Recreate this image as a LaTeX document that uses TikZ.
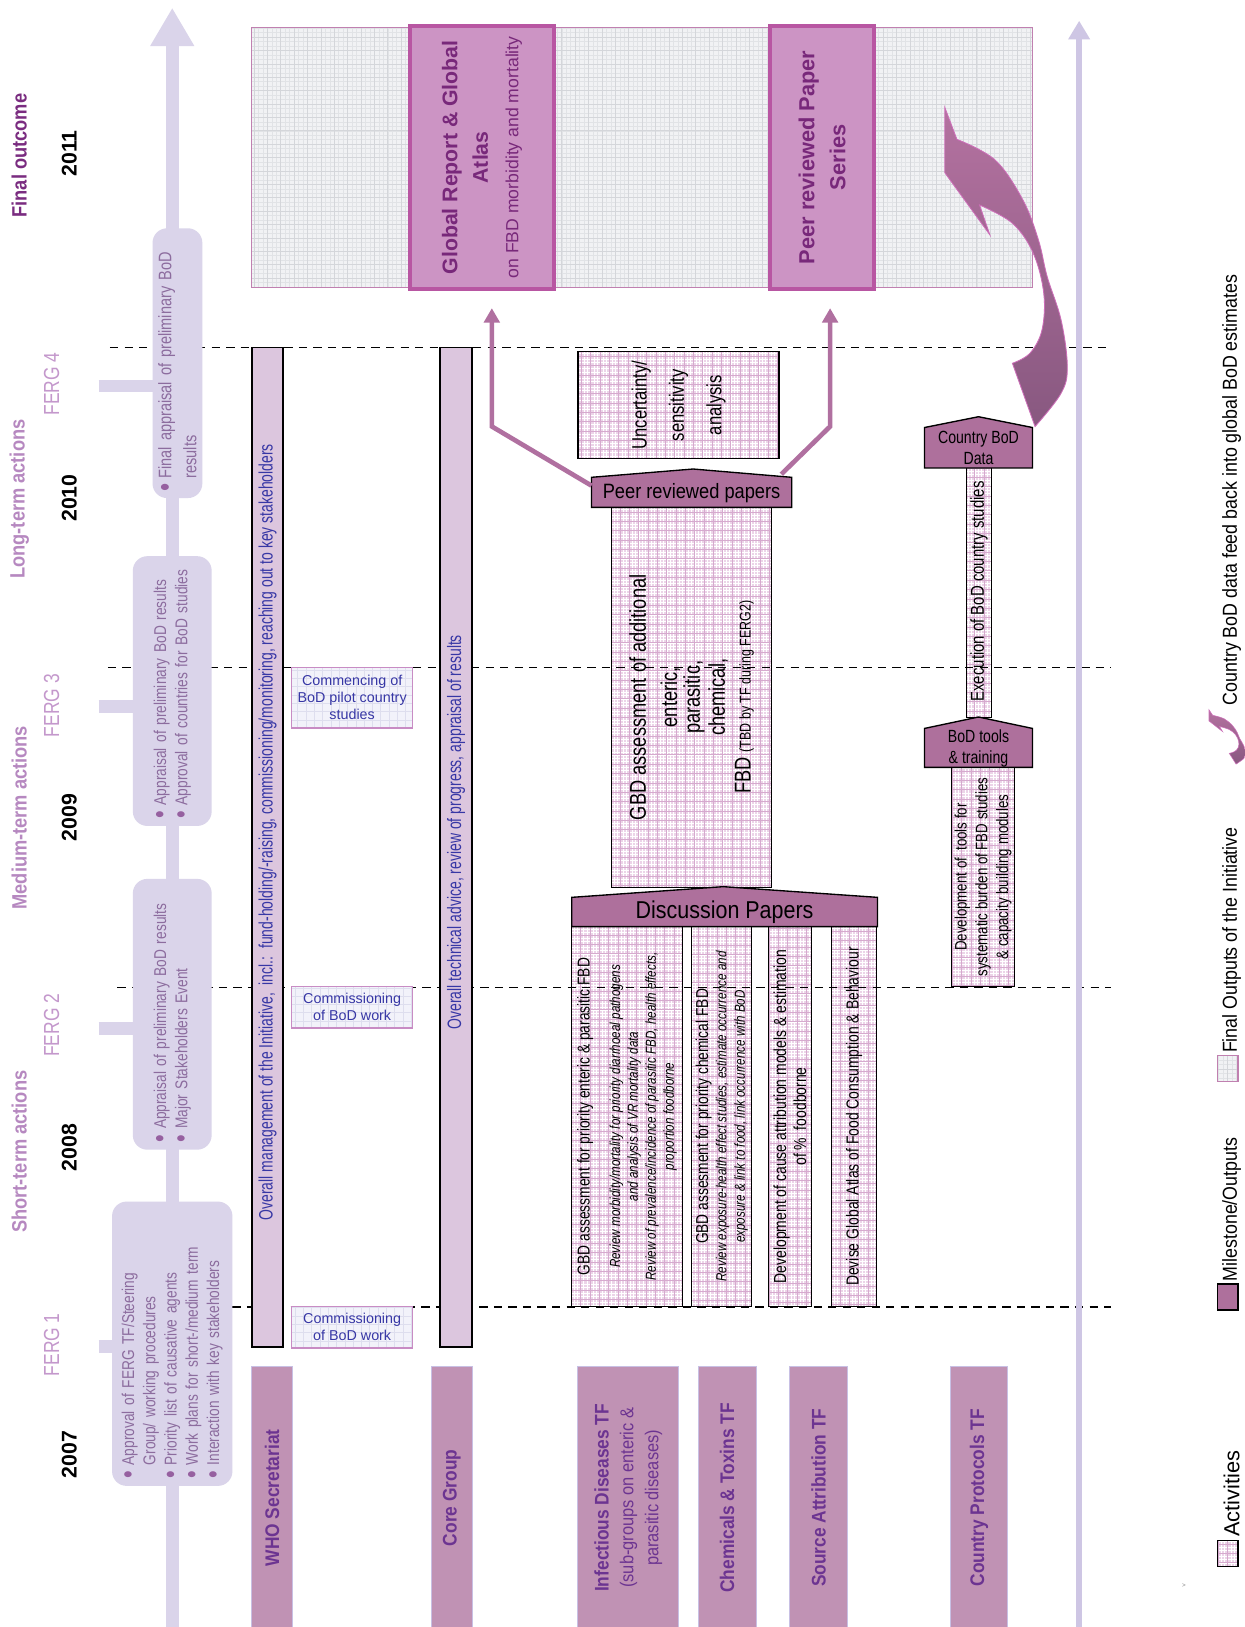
\documentclass[tikz,border=0pt]{standalone}
\usepackage{fontspec}
\setmainfont{Liberation Sans}
\newfontfamily\nar[FakeStretch=0.8]{Liberation Sans}
\newfontfamily\nrw[FakeStretch=0.72]{Liberation Sans}
\newfontfamily\hdr[FakeStretch=0.88]{Liberation Sans}
\usetikzlibrary{arrows.meta}
\newcommand\fsz[2]{\fontsize{#1}{#2}\selectfont}
\definecolor{tlcol}{RGB}{218,212,234}
\definecolor{rtlcol}{RGB}{206,198,228}
\definecolor{bubtxt}{RGB}{140,108,158}
\definecolor{bubdot}{RGB}{150,96,160}
\definecolor{fergcol}{RGB}{196,152,204}
\definecolor{hdrcol}{RGB}{182,136,192}
\definecolor{outcol}{RGB}{122,44,128}
\definecolor{bluetxt}{RGB}{55,55,165}
\definecolor{barfill}{RGB}{220,198,222}
\definecolor{actfill}{RGB}{236,212,232}
\definecolor{actgrid}{RGB}{214,170,206}
\definecolor{msfill}{RGB}{174,112,156}
\definecolor{lblfill}{RGB}{192,146,180}
\definecolor{lbltxt}{RGB}{108,52,145}
\definecolor{lblborder}{RGB}{200,192,228}
\definecolor{fofill}{RGB}{241,242,244}
\definecolor{fogrid}{RGB}{225,227,230}
\definecolor{fogrid2}{RGB}{212,214,218}
\definecolor{foborder}{RGB}{192,128,176}
\definecolor{fobox}{RGB}{204,148,196}
\definecolor{foboxborder}{RGB}{184,86,162}
\definecolor{fotxt}{RGB}{120,40,122}
\definecolor{arrcol}{RGB}{176,112,160}
\definecolor{comfill}{RGB}{242,242,250}
\definecolor{comgrid}{RGB}{222,222,238}
\definecolor{comborder}{RGB}{200,140,196}
\definecolor{bigtop}{RGB}{180,114,160}
\definecolor{bigbot}{RGB}{136,88,128}
\definecolor{bigedge}{RGB}{205,110,185}
\newcommand\bbul{\makebox[13pt][l]{\textcolor{bubdot}{\raisebox{-0.17em}{\scalebox{1.6}{\textbullet}}}}}
\newcommand\bind{\hspace*{13pt}}
\newcommand\bigarrowpath{(910.5,103.4) -- plot[smooth,tension=0.6] coordinates{(922.2,134.3) (959,154.2) (985.8,192.7) (1000.8,231.3) (1009.2,266.6) (1022.6,308.4) (1028.6,353.3) (1022.6,379) (997.5,411.1)} -- plot[smooth,tension=0.6] coordinates{(975.7,350.1) (992.5,340.5) (1004.2,318) (1005.9,282.7) (995.8,244.1) (975.7,215.2) (944,197.5)} -- (954,226.4) -- (910.5,166.4) -- cycle}
\tikzset{
  vtext/.style={rotate=90, inner sep=0pt, align=center},
  hdrtxt/.style={vtext, font=\hdr\bfseries\fsz{20}{24}, text=hdrcol},
  yeartxt/.style={vtext, font=\bfseries\fsz{20.5}{24}, text=black},
  fergtxt/.style={vtext, font=\nar\fsz{21}{24}, text=fergcol},
  bubble/.style={rotate=90, fill=tlcol, rounded corners=14pt, inner sep=0pt, align=left, font=\nar\fsz{16.5}{20.5}, text=bubtxt},
  tlline/.style={draw=tlcol, line width=13pt, -{Triangle[width=40pt,length=37pt]}},
  fergtick/.style={draw=tlcol, line width=12.5pt},
  dashline/.style={draw=black, line width=1.2pt, dash pattern=on 8pt off 6pt},
  rolebar/.style={rotate=90, draw=black, line width=1.5pt, fill=barfill, inner sep=0pt},
  roletxt/.style={rotate=90, inner sep=0pt, font=\nrw\fsz{18.7}{20}, text=bluetxt},
  gridact/.style={path picture={
      \draw[white, line width=0.25pt] (path picture bounding box.south west) grid[step=3pt] (path picture bounding box.north east);
      \draw[actgrid, line width=0.5pt] (path picture bounding box.south west) grid[step=9pt] (path picture bounding box.north east);}},
  gridfo/.style={path picture={
      \draw[fogrid, line width=0.3pt] (path picture bounding box.south west) grid[step=4.3pt] (path picture bounding box.north east);
      \draw[fogrid2, line width=0.45pt] (path picture bounding box.south west) grid[step=12.9pt] (path picture bounding box.north east);}},
  gridcom/.style={path picture={
      \draw[comgrid, line width=0.4pt] (path picture bounding box.south west) grid[step=8pt] (path picture bounding box.north east);}},
  actbox/.style={rotate=90, draw=black, line width=1.3pt, fill=actfill, gridact, inner sep=2pt, align=center, font=\nar\fsz{16}{19}, text=black},
  fobg/.style={draw=foborder, line width=1pt, fill=fofill, gridfo, inner sep=0pt},
  fobox/.style={rotate=90, draw=foboxborder, line width=4pt, fill=fobox, inner sep=0pt, align=center, text=fotxt},
  comm/.style={draw=comborder, line width=1.2pt, fill=comfill, gridcom, inner sep=0pt, align=center, font=\fsz{13.8}{16.5}, text=bluetxt, minimum width=116.7pt},
  msshape/.style={fill=msfill, draw=black, line width=1.3pt},
  mstxt/.style={inner sep=0pt, align=center, text=black},
  lblbox/.style={rotate=90, fill=lblfill, draw=lblborder, line width=1pt, inner sep=0pt, align=center, text=lbltxt, minimum width=253pt, font=\hdr\bfseries\fsz{19}{22}},
  outarrow/.style={draw=arrcol, line width=4.5pt, -{Triangle[width=15pt,length=14pt]}},
  legsq/.style={minimum width=20pt, minimum height=25pt, inner sep=0pt, line width=1.2pt},
  legtxt/.style={rotate=90, anchor=west, inner sep=0pt, font=\hdr\fsz{19.5}{22}, text=black}
}
\begin{document}
\begin{tikzpicture}[x=1pt,y=-1pt]
\useasboundingbox (0,0) rectangle (1199,1568);
\fill[white] (0,0) rectangle (1199,1568);

% ---------- final outputs ----------
\node[fobg, minimum width=752.5pt, minimum height=250.1pt] (fobgnode) at (618.75,151.75) {};
\node[fobox, minimum width=254pt, minimum height=139pt, font=\fsz{20.5}{29.5}] (gr) at (464.5,151.7)
  {{\bfseries Global Report \& Global}\\{\bfseries Atlas}\\{\fsz{17}{20}on FBD morbidity and mortality}};
\node[fobox, minimum width=254pt, minimum height=100pt, font=\bfseries\fsz{21}{30}] (prs) at (792.3,151.7)
  {Peer reviewed Paper\\Series};

% ---------- activity boxes ----------
\node[actbox, minimum width=103pt, minimum height=193.7pt, font=\nar\fsz{20}{36}] (unc) at (654,390.5) {Uncertainty/\\sensitivity\\analysis};
\node[actbox, minimum width=366pt, minimum height=154.2pt, font=\nar\fsz{22}{22}] (gbdadd) at (666.6,672)
  {GBD assessment of additional\\[8pt]enteric,\\parasitic,\\[2pt]chemical,\\[3pt]FBD {\fsz{15}{15}(TBD by TF during FERG2)}};
\node[actbox, minimum width=366pt, minimum height=106.5pt, font=\nar\fsz{14}{17.3}] (dp1) at (604.25,1076)
  {{\fsz{16.6}{19}GBD assessment for priority enteric \& parasitic FBD}\\[12pt]{\itshape Review morbidity/mortality for priority diarrhoeal pathogens}\\{\itshape and analysis of VR mortality data}\\{\itshape Review of prevalence/incidence of parasitic FBD, health effects,}\\{\itshape proportion foodborne}};
\node[actbox, minimum width=366pt, minimum height=57.8pt, font=\nar\fsz{14}{17.7}] (dp2) at (695.5,1076)
  {{\fsz{16.6}{19}GBD assesment for priority chemical FBD}\\{\itshape Review exposure-health effect studies, estimate occurrence and}\\{\itshape exposure \& link to food, link occurrence with BoD}};
\node[actbox, minimum width=366pt, minimum height=41.8pt, inner sep=0pt, font=\nar\fsz{16.8}{19.3}] (dp3) at (761.3,1076)
  {Development of cause attribution models \& estimation\\of \%\ \ foodborne};
\node[actbox, minimum width=366pt, minimum height=43.3pt, inner sep=0pt, font=\nar\fsz{16.8}{19}] (dp4) at (823.15,1076)
  {Devise Global Atlas of Food Consumption \& Behaviour};
\node[actbox, minimum width=243pt, minimum height=24.1pt, inner sep=0pt, font=\nar\fsz{18}{19}] (exe) at (943.65,570)
  {Execution of BoD country studies};
\node[actbox, minimum width=211.5pt, minimum height=61pt, inner sep=0pt, font=\nar\fsz{16}{20}] (dev) at (947.5,845.25)
  {Development of\ \ tools for\\systematic burden of FBD studies\\\& capacity building modules};

% ---------- dashed FERG lines ----------
\coordinate (dl4a) at (106,335);  \coordinate (dl4b) at (1071,335);
\coordinate (dl3a) at (104,643);  \coordinate (dl3b) at (1071,643);
\coordinate (dl2a) at (113,952);  \coordinate (dl2b) at (1071,952);
\coordinate (dl1a) at (224,1259.5); \coordinate (dl1b) at (1071,1259.5);
\draw[dashline] (dl4a) -- (dl4b);
\draw[dashline] (dl3a) -- (dl3b);
\draw[dashline] (dl2a) -- (dl2b);
\draw[dashline] (dl1a) -- (dl1b);

% ---------- left timeline ----------
\coordinate (tlb) at (166,1568); \coordinate (tlt) at (166,7.5);
\draw[tlline] (tlb) -- (tlt);
\coordinate (tk4a) at (95,372);  \coordinate (tk4b) at (166,372);
\coordinate (tk3a) at (95,681);  \coordinate (tk3b) at (166,681);
\coordinate (tk2a) at (95,991);  \coordinate (tk2b) at (166,991);
\coordinate (tk1a) at (95,1298); \coordinate (tk1b) at (166,1298);
\draw[fergtick] (tk4a) -- (tk4b);
\draw[fergtick] (tk3a) -- (tk3b);
\draw[fergtick] (tk2a) -- (tk2b);
\draw[fergtick] (tk1a) -- (tk1b);

\node[bubble, minimum width=260pt, minimum height=48pt, text width=248pt, font=\nar\fsz{17.5}{24}] (b4) at (171,350)
  {\bbul Final appraisal of preliminary BoD\\\bind results};
\node[bubble, minimum width=260pt, minimum height=76pt, text width=246pt] (b3) at (166,666)
  {\bbul Appraisal of preliminary BoD results\\\bbul Approval of countries for BoD studies};
\node[bubble, minimum width=261pt, minimum height=76pt, text width=247pt] (b2) at (166,977.5)
  {\bbul Appraisal of preliminary BoD results\\\bbul Major Stakeholders Event};
\node[bubble, minimum width=274pt, minimum height=116pt, text width=260pt] (b1) at (166,1295)
  {\bbul Approval of FERG TF/Steering\\\bind Group/ working procedures\\\bbul Priority list of causative agents\\\bbul Work plans for short-/medium term\\\bbul Interaction with key stakeholders};

% ---------- left labels ----------
\node[hdrtxt, text=outcol] (hfin) at (18.5,150) {Final outcome};
\node[hdrtxt] (hlong) at (18.5,481) {Long-term actions};
\node[hdrtxt] (hmed) at (18.5,788) {Medium-term actions};
\node[hdrtxt] (hshort) at (18.5,1110) {Short-term actions};
\node[yeartxt] (y2011) at (66.7,148) {2011};
\node[yeartxt] (y2010) at (66.7,480) {2010};
\node[yeartxt] (y2009) at (66.7,788) {2009};
\node[yeartxt] (y2008) at (66.7,1106) {2008};
\node[yeartxt] (y2007) at (66.7,1402) {2007};
\node[fergtxt] (f4) at (49.8,370) {FERG 4};
\node[fergtxt] (f3) at (49.8,680) {FERG 3};
\node[fergtxt] (f2) at (49.8,988) {FERG 2};
\node[fergtxt] (f1) at (49.8,1296) {FERG 1};

% ---------- right timeline ----------
\coordinate (rtb) at (1040,1568); \coordinate (rtt) at (1040,20);
\draw[draw=rtlcol, line width=6pt, -{Triangle[width=20pt,length=18pt]}] (rtb) -- (rtt);

% ---------- role bars ----------
\node[rolebar, minimum width=963pt, minimum height=30pt] (whobar) at (258,816.5) {};
\node[roletxt] (whotxt) at (258,802)
  {Overall management of the Initiative,\ \ incl.:\ \ fund-holding/-raising, commissioning/monitoring, reaching out to key stakeholders};
\node[rolebar, minimum width=963pt, minimum height=31pt] (corebar) at (439.5,816.5) {};
\node[roletxt] (coretxt) at (439.5,802)
  {Overall technical advice, review of progress, appraisal of results};

\node[comm, minimum height=58.6pt] (com3) at (339.4,672.3) {Commencing of\\BoD pilot country\\studies};
\node[comm, minimum height=40pt] (com2) at (339.4,970.7) {Commissioning\\of BoD work};
\node[comm, minimum height=40pt] (com1) at (339.4,1279) {Commissioning\\of BoD work};

% ---------- milestones ----------
\filldraw[msshape] (570,489) -- (570,460) -- (668,452) -- (763,460) -- (763,489) -- cycle;
\node[mstxt, font=\hdr\fsz{20}{22}] (prp) at (666.5,475) {Peer reviewed papers};
\filldraw[msshape] (551,893) -- (551,864.8) -- (697,854.5) -- (845.6,864.8) -- (845.6,893) -- cycle;
\node[mstxt, font=\hdr\fsz{23.5}{24}] (dpap) at (698.3,879) {Discussion Papers};
\filldraw[msshape] (891,451) -- (891,412) -- (943,401.6) -- (995,412) -- (995,451) -- cycle;
\node[mstxt, font=\nar\fsz{17}{20}] (cbd) at (943,432) {Country BoD\\Data};
\filldraw[msshape] (891,739.5) -- (891,702) -- (943,691) -- (995,702) -- (995,739.5) -- cycle;
\node[mstxt, font=\nar\fsz{17}{20}] (bodt) at (943,721) {BoD tools\\\& training};

% ---------- arrows to final outputs ----------
\coordinate (prpL) at (570,468); \coordinate (kL) at (474,411); \coordinate (tipL) at (474,297);
\coordinate (prpR) at (753,457); \coordinate (kR) at (800,411); \coordinate (tipR) at (800,297);
\draw[outarrow] (prpL) -- (kL) -- (tipL);
\draw[outarrow] (prpR) -- (kR) -- (tipR);

% ---------- big feedback arrow ----------
\shade[top color=bigtop, bottom color=bigbot, draw=bigedge, line width=0.8pt] \bigarrowpath;

% ---------- task force labels ----------
\node[lblbox, minimum height=39.2pt] (whol) at (262.1,1443.5) {WHO Secretariat};
\node[lblbox, minimum height=39pt] (corel) at (435.5,1443.5) {Core Group};
\node[lblbox, minimum height=97pt, font=\hdr\fsz{18}{24}] (infl) at (605.5,1443.5)
  {{\bfseries\fsz{19}{22}Infectious Diseases TF}\\(sub-groups on enteric \&\\parasitic diseases)};
\node[lblbox, minimum height=55.6pt] (chel) at (700.8,1443.5) {Chemicals \& Toxins TF};
\node[lblbox, minimum height=56pt] (srcl) at (789,1443.5) {Source Attribution TF};
\node[lblbox, minimum height=55pt] (ctyl) at (943.5,1443.5) {Country Protocols TF};

% ---------- legend ----------
\node[legsq, draw=black, fill=actfill, gridact] (lgact) at (1183,1497) {};
\node[legtxt, font=\fsz{21}{22}] (lgacttxt) at (1187,1481) {Activities};
\node[legsq, draw=black, fill=msfill] (lgms) at (1183,1250) {};
\node[legtxt] (lgmstxt) at (1187,1235) {Milestone/Outputs};
\node[legsq, draw=foborder, fill=fofill, gridfo] (lgfo) at (1183,1030) {};
\node[legtxt] (lgfotxt) at (1187,1015) {Final Outputs of the Initiative};
\begin{scope}[shift={(1165,684)}, xscale=0.3, yscale=0.17, shift={(-910,-103)}]
\shade[top color=bigtop, bottom color=bigbot, draw=bigedge, line width=0.5pt] \bigarrowpath;
\end{scope}
\node[legtxt] (lgcbtxt) at (1187,680) {Country BoD data feed back into global BoD estimates};
\node[font=\fsz{6}{6}, text=gray, inner sep=0pt] (artf) at (1141,1528) {>};
\end{tikzpicture}
\end{document}
